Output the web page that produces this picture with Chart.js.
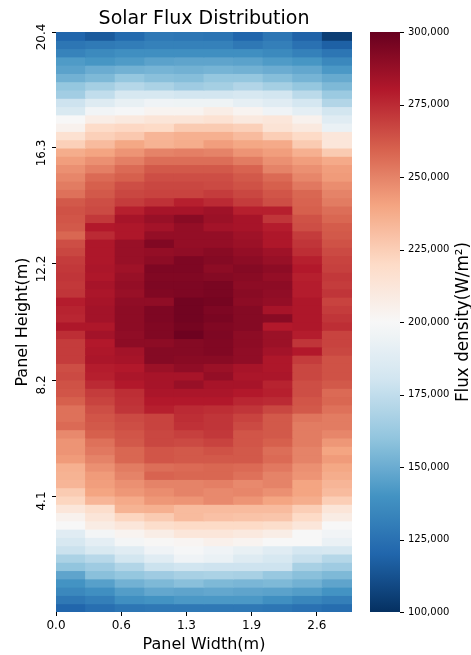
<!DOCTYPE html>
<html>
<head>
<meta charset="utf-8">
<title>Solar Flux Distribution</title>
<script src="https://cdn.jsdelivr.net/npm/chart.js@4/dist/chart.umd.min.js"></script>
<style>
  html, body { margin: 0; padding: 0; background: #ffffff; }
  canvas { display: block; }
</style>
</head>
<body>
<canvas id="flux" width="471" height="655"></canvas>
<script>
// ---- data -------------------------------------------------------------
const panelWidth = 2.95;   // m
const panelHeight = 20.4;  // m
const xTickValues = [0, 0.65, 1.3, 1.95, 2.6];
const xTickLabels = ['0.0', '0.6', '1.3', '1.9', '2.6'];
const yTickValues = [4.08, 8.16, 12.24, 16.32, 20.4];
const yTickLabels = ['4.1', '8.2', '12.2', '16.3', '20.4'];
const cbTickValues = [100000, 125000, 150000, 175000, 200000, 225000, 250000, 275000, 300000];
const fluxMin = 100000;
const fluxMax = 300000;

// Flux density per cell in kW/m², rows listed from the top of the panel (20.4 m) down to 0 m,
// ten columns across the panel width.
const fluxKW = [
  [120, 116, 122, 128, 127, 126, 120, 127, 119, 105],
  [127, 129, 130, 132, 132, 132, 128, 131, 125, 118],
  [133, 136, 138, 138, 138, 138, 138, 136, 132, 127],
  [143, 141, 143, 146, 147, 147, 146, 143, 141, 135],
  [146, 150, 152, 153, 152, 153, 152, 150, 148, 142],
  [152, 155, 161, 158, 157, 161, 161, 157, 153, 149],
  [161, 166, 171, 168, 164, 166, 170, 166, 161, 155],
  [165, 175, 183, 183, 181, 181, 183, 181, 173, 163],
  [179, 187, 192, 196, 195, 195, 191, 188, 182, 170],
  [184, 197, 199, 203, 203, 207, 203, 196, 190, 181],
  [200, 207, 210, 213, 213, 215, 210, 212, 204, 188],
  [204, 219, 221, 220, 226, 226, 224, 214, 210, 193],
  [216, 224, 227, 234, 236, 236, 232, 225, 220, 212],
  [224, 232, 239, 235, 237, 242, 239, 238, 226, 212],
  [237, 240, 245, 250, 251, 250, 245, 242, 236, 226],
  [242, 246, 251, 256, 256, 256, 252, 246, 242, 238],
  [246, 251, 257, 262, 262, 262, 259, 250, 246, 242],
  [249, 257, 260, 265, 265, 265, 262, 257, 249, 243],
  [252, 260, 265, 267, 267, 266, 264, 260, 253, 247],
  [255, 262, 267, 268, 268, 270, 267, 263, 258, 250],
  [262, 265, 270, 273, 278, 275, 270, 265, 259, 252],
  [264, 266, 278, 283, 283, 285, 278, 278, 260, 256],
  [263, 271, 283, 287, 291, 286, 283, 272, 264, 258],
  [262, 280, 281, 284, 288, 284, 283, 279, 265, 261],
  [258, 275, 281, 288, 288, 288, 285, 281, 270, 262],
  [265, 281, 287, 293, 288, 288, 286, 281, 272, 264],
  [267, 281, 287, 288, 289, 291, 288, 285, 274, 266],
  [270, 281, 287, 290, 294, 292, 290, 287, 278, 268],
  [271, 282, 285, 294, 294, 290, 292, 290, 280, 269],
  [272, 281, 287, 293, 293, 292, 291, 288, 278, 271],
  [271, 283, 288, 294, 294, 295, 290, 290, 279, 270],
  [272, 282, 287, 293, 294, 295, 291, 289, 279, 272],
  [279, 283, 289, 289, 297, 296, 290, 288, 281, 268],
  [277, 284, 290, 294, 297, 294, 292, 283, 281, 270],
  [276, 284, 290, 294, 297, 295, 292, 291, 281, 272],
  [281, 281, 290, 293, 296, 293, 292, 280, 281, 274],
  [274, 284, 289, 293, 298, 294, 290, 286, 279, 268],
  [270, 280, 290, 290, 292, 293, 290, 286, 272, 268],
  [270, 281, 284, 292, 292, 293, 289, 284, 280, 267],
  [270, 282, 283, 292, 291, 291, 289, 281, 270, 264],
  [265, 279, 280, 286, 289, 286, 283, 281, 267, 264],
  [266, 278, 282, 283, 283, 288, 282, 282, 267, 264],
  [264, 275, 280, 283, 287, 283, 283, 277, 265, 262],
  [263, 270, 274, 282, 282, 282, 280, 278, 265, 257],
  [260, 268, 273, 280, 280, 280, 276, 275, 263, 258],
  [255, 265, 272, 278, 275, 274, 272, 267, 262, 255],
  [255, 263, 266, 268, 274, 272, 268, 262, 254, 252],
  [257, 262, 265, 268, 273, 272, 266, 262, 252, 252],
  [248, 260, 263, 267, 269, 271, 263, 262, 252, 249],
  [245, 255, 262, 267, 266, 268, 263, 260, 252, 244],
  [245, 253, 258, 263, 262, 264, 262, 256, 250, 240],
  [243, 250, 258, 263, 262, 262, 262, 257, 250, 243],
  [236, 246, 252, 256, 257, 258, 257, 253, 246, 239],
  [235, 243, 250, 259, 258, 258, 255, 250, 245, 237],
  [234, 242, 246, 250, 250, 251, 248, 250, 240, 234],
  [226, 240, 244, 247, 250, 248, 249, 246, 240, 232],
  [222, 234, 238, 244, 245, 248, 245, 240, 237, 225],
  [212, 218, 235, 236, 232, 232, 232, 232, 225, 213],
  [204, 213, 222, 226, 232, 230, 229, 228, 220, 208],
  [200, 208, 212, 218, 220, 220, 220, 218, 212, 200],
  [188, 198, 203, 207, 212, 212, 210, 207, 200, 197],
  [183, 190, 198, 201, 202, 205, 203, 200, 200, 193],
  [178, 184, 188, 196, 199, 196, 192, 188, 182, 183],
  [168, 172, 181, 188, 196, 193, 187, 183, 177, 171],
  [160, 164, 170, 178, 180, 179, 179, 179, 167, 164],
  [147, 158, 161, 164, 167, 168, 167, 162, 158, 155],
  [140, 145, 152, 155, 158, 155, 154, 155, 152, 147],
  [135, 138, 144, 148, 147, 148, 147, 146, 144, 140],
  [128, 131, 138, 140, 142, 142, 142, 138, 134, 131],
  [120, 124, 127, 128, 128, 128, 128, 127, 125, 123]
];

// ---- colour map (diverging red/blue, reversed: blue = low, red = high) --
const RDBU_R = [
  [5, 48, 97], [33, 102, 172], [67, 147, 195], [146, 197, 222], [209, 229, 240],
  [247, 247, 247], [253, 219, 199], [244, 165, 130], [214, 96, 77], [178, 24, 43], [103, 0, 31]
];
function fluxColor(value) {
  let t = (value - fluxMin) / (fluxMax - fluxMin);
  t = Math.min(1, Math.max(0, t));
  const p = t * (RDBU_R.length - 1);
  const i = Math.min(RDBU_R.length - 2, Math.floor(p));
  const f = p - i;
  const a = RDBU_R[i], b = RDBU_R[i + 1];
  const c = a.map((v, k) => Math.round(v + (b[k] - v) * f));
  return `rgb(${c[0]},${c[1]},${c[2]})`;
}

// ---- one floating-bar dataset per panel row ----------------------------
const nRows = fluxKW.length;
const nCols = fluxKW[0].length;
const rowSize = panelHeight / nRows;
const colSize = panelWidth / nCols;

const datasets = fluxKW.map((row, r) => {
  const upper = panelHeight - r * rowSize;
  const values = row.map(v => v * 1000);
  return {
    label: 'row ' + r,
    data: values.map((v, c) => ({ x: (c + 0.5) * colSize, y: [upper - rowSize, upper], flux: v })),
    backgroundColor: values.map(fluxColor),
    borderWidth: 0,
    grouped: false,
    barPercentage: 1,
    categoryPercentage: 1,
    inflateAmount: 0.5
  };
});

// ---- text, colour bar and rotated tick labels --------------------------
const FONT = "'DejaVu Sans', 'Liberation Sans', sans-serif";

const decorations = {
  id: 'decorations',
  afterDraw(chart) {
    const { ctx, chartArea, scales } = chart;
    const yScale = scales.y;
    const cb = scales.cb;
    ctx.save();
    ctx.fillStyle = '#000';

    // title
    ctx.font = `19px ${FONT}`;
    ctx.textAlign = 'center';
    ctx.textBaseline = 'middle';
    ctx.fillText('Solar Flux Distribution', (chartArea.left + chartArea.right) / 2, 19.5);

    // rotated y tick labels
    ctx.font = `12px ${FONT}`;
    yTickValues.forEach((v, i) => {
      const py = yScale.getPixelForValue(v);
      ctx.save();
      ctx.translate(41.5, py + 5);
      ctx.rotate(-Math.PI / 2);
      ctx.fillText(yTickLabels[i], 0, 0);
      ctx.restore();
    });

    // colour bar strip
    const barLeft = chartArea.right + 18;
    const barWidth = 30;
    const yTop = cb.getPixelForValue(fluxMax);
    const yBottom = cb.getPixelForValue(fluxMin);
    const grad = ctx.createLinearGradient(0, yBottom, 0, yTop);
    const steps = 40;
    for (let s = 0; s <= steps; s++) {
      grad.addColorStop(s / steps, fluxColor(fluxMin + (fluxMax - fluxMin) * s / steps));
    }
    ctx.fillStyle = grad;
    ctx.fillRect(barLeft, yTop, barWidth, yBottom - yTop);

    // colour bar tick marks
    ctx.strokeStyle = '#000';
    ctx.lineWidth = 1;
    cbTickValues.forEach(v => {
      const py = Math.round(cb.getPixelForValue(v)) + 0.5;
      ctx.beginPath();
      ctx.moveTo(barLeft + barWidth, py);
      ctx.lineTo(barLeft + barWidth + 4, py);
      ctx.stroke();
    });

    // colour bar title, reading bottom to top
    ctx.fillStyle = '#000';
    ctx.font = `16.8px ${FONT}`;
    ctx.save();
    ctx.translate(464, (yTop + yBottom) / 2);
    ctx.rotate(-Math.PI / 2);
    ctx.textAlign = 'center';
    ctx.textBaseline = 'middle';
    ctx.fillText('Flux density(W/m²)', 0, 0);
    ctx.restore();

    ctx.restore();
  }
};

new Chart(document.getElementById('flux'), {
  type: 'bar',
  data: { datasets },
  plugins: [decorations],
  options: {
    responsive: false,
    animation: false,
    events: [],
    layout: { padding: { top: 32, left: 0, right: 0, bottom: 0 } },
    plugins: {
      legend: { display: false },
      title: { display: false },
      tooltip: { enabled: false }
    },
    scales: {
      x: {
        type: 'linear',
        min: 0,
        max: panelWidth,
        offset: false,
        afterBuildTicks: s => { s.ticks = xTickValues.map(v => ({ value: v })); },
        afterFit: s => { s.height = 43; },
        ticks: {
          autoSkip: false,
          maxRotation: 0,
          color: '#000',
          padding: 3,
          font: { family: FONT, size: 12 },
          callback: (v, i) => xTickLabels[i]
        },
        grid: { display: true, drawOnChartArea: false, drawTicks: true, tickLength: 4, tickColor: '#000', tickWidth: 1, offset: false },
        border: { display: false },
        title: {
          display: true,
          text: 'Panel Width(m)',
          color: '#000',
          font: { family: FONT, size: 16 },
          padding: { top: 0, bottom: 1 }
        }
      },
      y: {
        type: 'linear',
        min: 0,
        max: panelHeight,
        stacked: false,
        afterBuildTicks: s => { s.ticks = yTickValues.map(v => ({ value: v })); },
        afterFit: s => { s.width = 56; },
        ticks: { display: false, padding: 0 },
        grid: { display: true, drawOnChartArea: false, drawTicks: true, tickLength: 4, tickColor: '#000', tickWidth: 1 },
        border: { display: false },
        title: {
          display: true,
          text: 'Panel Height(m)',
          color: '#000',
          font: { family: FONT, size: 16 },
          padding: { top: 13, bottom: 0 }
        }
      },
      cb: {
        type: 'linear',
        position: 'right',
        min: fluxMin,
        max: fluxMax,
        afterBuildTicks: s => { s.ticks = cbTickValues.map(v => ({ value: v })); },
        afterFit: s => { s.width = 119; },
        ticks: {
          color: '#000',
          padding: 4,
          font: { family: FONT, size: 10 },
          callback: v => v.toLocaleString('en-US')
        },
        // the long transparent tick keeps the labels clear of the colour strip
        grid: { display: true, drawOnChartArea: false, drawTicks: true, tickLength: 52, tickColor: 'rgba(0,0,0,0)' },
        border: { display: false }
      }
    }
  }
});
</script>
</body>
</html>
